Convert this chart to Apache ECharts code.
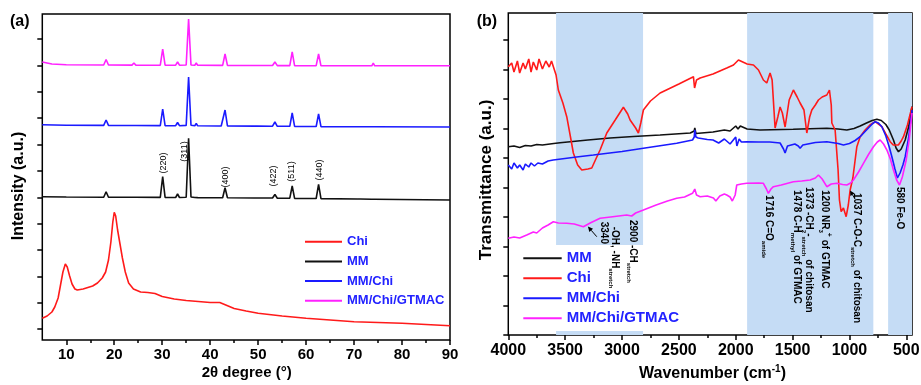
<!DOCTYPE html>
<html><head><meta charset="utf-8">
<script src="https://cdn.jsdelivr.net/npm/echarts@6/dist/echarts.min.js"></script>
<style>html,body{margin:0;padding:0;background:#fff}#c{width:921px;height:385px}</style>
</head><body><div id="c"></div>
<script>
const FONT = '"Liberation Sans", Arial, sans-serif';

// ---------- Panel (a): XRD, [2theta, intensity a.u.] ----------
const xrdChi = [[5,21.7],[6,24],[7,28],[7.6,33],[8.3,42],[8.8,55],[9.3,68],[9.8,76],[10.2,73],[10.7,64],[11.2,56],[11.8,51],[12.3,50],[13.5,51],[14.5,52.5],[15.5,54],[16.5,57],[17.5,62],[18.2,68],[18.8,80],[19.3,98],[19.7,118],[20.0,127.7],[20.3,124],[20.7,110],[21.2,96],[21.7,82],[22.3,68],[23.0,57],[24.0,51],[25.5,48],[27,47.5],[28.5,46.5],[30,43.5],[32.5,41],[35,39.5],[37.5,38.5],[40,37.5],[42,37.5],[43.5,34.5],[45,31.5],[47.5,29],[50,26.7],[55,24],[60,21.7],[65,20],[70,18.3],[75,17.5],[80,16.7],[85,15.5],[90,14.3]];
const xrdMM = [[5,143.3],[10,143],[17.8,142.8],[18.3,148.3],[18.8,142.8],[23.7,142.7],[24.1,144.5],[24.5,142.7],[29.6,142.6],[30.1,163.3],[30.6,142.6],[32.8,142.5],[33.2,146],[33.6,142.5],[35.0,142.8],[35.5,201.7],[36.0,143],[36.8,142.5],[37.1,144.5],[37.4,142.4],[42.6,142.3],[43.1,152.3],[43.6,142.3],[49.2,142],[49.5,143.5],[49.8,142],[53.0,142],[53.5,145.5],[54.0,141.8],[56.6,141.8],[57.1,154],[57.6,141.6],[62.1,141.5],[62.6,155.7],[63.1,141.4],[70.7,141],[71.0,142],[71.3,141],[73.7,140.8],[74.0,142.3],[74.3,140.8],[90,140]];
const xrdMMChi = [[5,215.3],[10,214.8],[17.8,214.6],[18.3,220],[18.8,214.6],[23.7,214.5],[24.1,216],[24.5,214.5],[29.6,214.4],[30.1,231],[30.6,214.4],[32.8,214.3],[33.2,217.5],[33.6,214.3],[35.0,214.6],[35.5,263],[36.0,214.8],[36.8,214.3],[37.1,216.5],[37.4,214.2],[41.7,214],[42.0,215.5],[42.3,214],[42.6,214.1],[43.1,230],[43.6,214.1],[49.2,213.9],[49.5,215],[49.8,213.9],[53.0,213.8],[53.5,218],[54.0,213.7],[56.6,213.7],[57.1,227],[57.6,213.6],[62.1,213.5],[62.6,226],[63.1,213.4],[70.7,213.3],[71.0,214.3],[71.3,213.3],[73.7,213.2],[74.0,214.7],[74.3,213.2],[90,213]];
const xrdGTMAC = [[5,278],[7,276],[10,275.3],[17.8,275],[18.3,280.5],[18.8,275],[23.7,274.9],[24.1,277],[24.5,274.9],[29.6,274.8],[30.1,291],[30.6,274.8],[32.8,274.8],[33.2,278],[33.6,274.8],[35.0,275],[35.5,321],[36.0,275],[36.8,274.8],[37.1,277],[37.4,274.7],[42.6,274.6],[43.1,286],[43.6,274.6],[49.2,274.5],[49.5,276],[49.8,274.5],[53.0,274.5],[53.5,278],[54.0,274.4],[56.6,274.4],[57.1,288],[57.6,274.3],[62.1,274.3],[62.6,286],[63.1,274.2],[70.7,274.2],[71.0,275],[71.3,274.2],[73.7,274.2],[74.0,277],[74.3,274.2],[90,274.3]];
const xrdTicks = [10,20,30,40,50,60,70,80,90];
const xrdMinorTicks = [15,25,35,45,55,65,75,85];
const xrdYTicks = [11,37.35,63.7,90.05,116.4,142.75,169.1,195.45,221.8,248.15,274.5,300.85];
const hklLabels = ['(220)','(311)','(400)','(422)','(511)','(440)'];
const hklAt = [[30.2,177],[34.6,188.5],[43.1,163],[53.2,164],[57.0,168.5],[62.7,170]];
const xrdLegend = ['Chi','MM','MM/Chi','MM/Chi/GTMAC'];

// ---------- Panel (b): FTIR, [wavenumber, transmittance a.u.] ----------
const ftirMM = [[4000,188.3],[3950,189],[3900,187.5],[3850,189.5],[3800,189],[3750,190.5],[3700,190],[3600,191.5],[3545,192.3],[3300,195],[3105,197],[2900,198.5],[2665,200],[2400,202],[2365,204],[2360,207],[2350,201.5],[2200,203],[2100,205],[2050,204],[2000,209],[1980,206],[1960,209],[1900,206],[1787,205],[1495,205.7],[1199,206.7],[1100,206],[1023,205],[960,206.5],[906,209],[850,212],[800,214.5],[759,215.7],[720,214.5],[680,210.5],[650,205],[613,195],[590,187],[569,183.3],[545,186],[510,195],[480,208],[450,228.3]];
const ftirChi = [[4000,268.3],[3970,272],[3950,263],[3920,274],[3900,262],[3870,272],[3850,266],[3820,276],[3800,263],[3780,273],[3750,265],[3730,276],[3700,266],[3670,274],[3640,268],[3620,274],[3605,272],[3580,260],[3560,245],[3520,232],[3486,218.3],[3450,196],[3428,182],[3390,170],[3354,165],[3300,166],[3266,167],[3230,176],[3193,185],[3134,202],[3060,215],[2988,227.7],[2950,221],[2929,215],[2880,207],[2856,202],[2835,212],[2812,225],[2750,234],[2665,242],[2500,251],[2372,258.3],[2362,247],[2345,255],[2313,257],[2200,261],[2079,267],[2020,270],[1976,275],[1900,271],[1844,270],[1800,265],[1757,255],[1727,252],[1698,262],[1680,255],[1654,207],[1630,218],[1610,228],[1590,222],[1566,208],[1530,235],[1493,245],[1460,238],[1434,232],[1400,225],[1375,202],[1350,218],[1331,225],[1300,230],[1273,235],[1240,238],[1199,240],[1176,245],[1160,230],[1155,212],[1126,205],[1100,165],[1088,135],[1073,123.3],[1053,127],[1029,118.3],[1010,130],[994,145],[970,157],[950,175],[935,188.3],[906,198.3],[862,205],[820,210],[774,213.3],[745,211],[715,208.3],[680,201],[642,193.3],[615,190],[598,188.3],[570,190],[545,194],[525,198.3],[490,210],[450,228.3]];
const ftirMMChi = [[4000,170],[3970,166],[3950,172],[3920,167],[3900,170],[3870,165],[3850,171],[3820,168],[3800,172],[3770,169],[3740,172],[3700,171],[3650,174],[3605,175],[3400,178],[3252,180],[3000,183.5],[2812,186.7],[2519,191.7],[2380,195],[2365,198],[2360,205],[2350,198],[2330,197],[2250,195.5],[2200,195],[2150,192],[2100,196],[2050,191],[2000,198],[1990,189],[1970,196],[1950,193],[1903,193.3],[1800,193],[1700,193],[1610,192],[1580,186],[1566,182],[1545,189],[1530,188.3],[1480,191],[1450,189],[1434,186.7],[1410,190],[1300,192.5],[1199,193.3],[1100,191.5],[1053,190],[1000,191.5],[950,194.5],[906,198.3],[850,205],[800,211],[774,213.3],[745,212],[715,208.3],[680,199],[650,188],[627,178.3],[600,166],[578,157],[555,162],[530,170],[510,178.3],[480,197],[450,225]];
const ftirGTMAC = [[4000,96.7],[3950,98],[3900,97],[3838,100],[3780,103],[3750,102],[3700,107],[3650,110],[3604,113.3],[3560,112],[3486,111.7],[3420,111],[3340,108.3],[3280,112],[3193,116.7],[3100,118],[2959,120],[2915,119],[2880,122],[2812,125],[2700,130],[2600,134],[2519,136.7],[2450,138],[2380,141.7],[2365,143],[2360,146],[2345,140],[2313,138.3],[2250,139],[2196,137],[2175,134],[2160,132],[2140,139],[2100,141],[2079,140],[2050,138],[2030,134],[2020,133.3],[2005,140],[1991,150],[1950,151],[1903,151.7],[1800,152],[1757,151.7],[1730,146],[1713,141.7],[1690,146],[1669,148.3],[1600,150],[1493,153.3],[1420,154],[1346,155],[1300,157],[1273,160],[1240,156],[1199,148.3],[1160,151],[1111,151.7],[1060,150.5],[1023,150],[990,152],[965,155],[920,163],[877,171.7],[830,181],[789,188.3],[755,193],[730,195],[700,191],[671,185],[640,176],[613,165],[585,155],[560,150],[535,158],[501,175],[475,195],[450,222]];
const ftirBands = [[3580,2815],[1900,790],[660,450]];
const ftirTicks = [4000,3500,3000,2500,2000,1500,1000,500];
const ftirMinorTicks = [3750,3250,2750,2250,1750,1250,750];
const ftirYTicks = [0,29.5,59,88.5,118,147.5,177,206.5,236,265.5,295];
const ftirLegend = ['MM','Chi','MM/Chi','MM/Chi/GTMAC'];
// annotations: [wavenumber, value at top of text, rich-text parts]
const ftirNotes = [
  [3164,113.3,[['n','3340']]],
  [3061,108.3,[['n','-OH, -NH'],['s','stretch']]],
  [2906,115,[['n','2900 -CH'],['s','stretch']]],
  [1713,140,[['n','1716 C=O'],['s','amide']]],
  [1463,145,[['n','1478 C-H'],['s','methyl'],['n',' of GTMAC']]],
  [1361,148,[['n','1373 -CH'],['s','2'],['n','-'],['s','stretch'],['n',' of chitosan']]],
  [1214,145,[['n','1200 NR'],['s','3'],['p','+'],['n',' of GTMAC']]],
  [935,142,[['n','1037 C-O-C'],['s','stretch'],['n',' of chitosan']]],
  [554,148,[['n','580 Fe-O']]]
];
const ftirArrows = [[[3222,98.3],[3300,108.5]],[[951,136],[995,144.5]]];

const C = {red:'#ff1a1a', black:'#111111', blue:'#1a1aff', mag:'#ff22ff', band:'#c5dcf5', legendText:'#2222ff'};

const chart = echarts.init(document.getElementById('c'), null, {renderer:'canvas'});

function lineSeries(name, data, color, xi, yi) {
  return {type:'line', name, data, xAxisIndex:xi, yAxisIndex:yi, showSymbol:false, symbol:'none',
    lineStyle:{color, width:1.6}, itemStyle:{color}, z:3, animation:false};
}
const tickStyle = {color:'#000', width:1.5};
function xAxisMajor(grid, min, max, inverse, ticks, fs, margin) {
  return {type:'value', gridIndex:grid, min, max, inverse, position:'bottom',
    axisLine:{show:false}, splitLine:{show:false},
    axisTick:{show:true, length:5, lineStyle:tickStyle, customValues:ticks},
    axisLabel:{show:true, customValues:ticks, formatter:v => String(v), color:'#000', fontWeight:'bold', fontSize:fs, fontFamily:FONT, margin}};
}
function xAxisMinor(grid, min, max, inverse, ticks) {
  return {type:'value', gridIndex:grid, min, max, inverse, position:'bottom',
    axisLine:{show:false}, splitLine:{show:false}, axisLabel:{show:false},
    axisTick:{show:true, length:3, lineStyle:tickStyle, customValues:ticks}};
}
function yAxisT(grid, max, ticks) {
  return {type:'value', gridIndex:grid, min:0, max, position:'left',
    axisLine:{show:false}, splitLine:{show:false}, axisLabel:{show:false},
    axisTick:{show:true, length:5, lineStyle:tickStyle, customValues:ticks}};
}

const option = {
  animation:false,
  backgroundColor:'#fff',
  grid:[
    {left:42.3, top:14, width:407.7, height:326, show:true, borderColor:'#000', borderWidth:1.5, backgroundColor:'transparent', outerBoundsMode:'none', containLabel:false},
    {left:508.3, top:13, width:403.7, height:322, show:true, borderColor:'#000', borderWidth:1.5, backgroundColor:'transparent', outerBoundsMode:'none', containLabel:false}
  ],
  xAxis:[
    xAxisMajor(0,5,90,false,xrdTicks,15,7),
    xAxisMinor(0,5,90,false,xrdMinorTicks),
    xAxisMajor(1,450,4000,true,ftirTicks,16,8),
    xAxisMinor(1,450,4000,true,ftirMinorTicks)
  ],
  yAxis:[ yAxisT(0,326,xrdYTicks), yAxisT(1,322,ftirYTicks) ],
  legend:[
    {data:xrdLegend, orient:'vertical', left:305, top:234.7, padding:0, itemWidth:37, itemHeight:2, itemGap:5.7,
     icon:'rect', selectedMode:false,
     textStyle:{color:C.legendText, fontWeight:'bold', fontSize:13, lineHeight:14, fontFamily:FONT}},
    {data:ftirLegend, orient:'vertical', left:509.3, top:245, padding:[5.3,4,4.7,14], backgroundColor:'#fff',
     itemWidth:38.4, itemHeight:2, itemGap:4, icon:'rect', selectedMode:false, z:5,
     textStyle:{color:C.legendText, fontWeight:'bold', fontSize:15, lineHeight:16, fontFamily:FONT}}
  ],
  series:[
    lineSeries('Chi', xrdChi, C.red, 0, 0),
    lineSeries('MM', xrdMM, C.black, 0, 0),
    lineSeries('MM/Chi', xrdMMChi, C.blue, 0, 0),
    lineSeries('MM/Chi/GTMAC', xrdGTMAC, C.mag, 0, 0),
    {type:'line', name:'bands', xAxisIndex:2, yAxisIndex:1, data:[[4000,0]], symbol:'none', showSymbol:false,
     lineStyle:{opacity:0}, z:1, silent:true,
     markArea:{silent:true, itemStyle:{color:C.band}, data:ftirBands.map(b=>[{xAxis:b[0]},{xAxis:b[1]}])}},
    lineSeries('MM', ftirMM, C.black, 2, 1),
    lineSeries('Chi', ftirChi, C.red, 2, 1),
    lineSeries('MM/Chi', ftirMMChi, C.blue, 2, 1),
    lineSeries('MM/Chi/GTMAC', ftirGTMAC, C.mag, 2, 1)
  ]
};
chart.setOption(option);

// ---------- text & annotations ----------
const g = [];
function txt(x, y, text, opts) {
  g.push(Object.assign({type:'text', x, y, z:10, silent:true,
    style:Object.assign({text, fill:'#000', font:'bold 16px '+FONT, fontFamily:FONT, fontWeight:'bold',
      align:'center', textAlign:'center', verticalAlign:'middle', textVerticalAlign:'middle'}, opts.style||{})}, opts.el||{}));
}
txt(10, 21.7, '(a)', {style:{align:'left', textAlign:'left', fontSize:16}});
txt(476.7, 21.7, '(b)', {style:{align:'left', textAlign:'left', fontSize:16}});
txt(18.3, 186, 'Intensity (a.u.)', {el:{rotation:Math.PI/2}, style:{fontSize:16, font:'bold 16px '+FONT}});
txt(246.7, 372.7, '2\u03b8 degree (\u00b0)', {style:{fontSize:15, font:'bold 15px '+FONT}});
txt(486.7, 180, 'Transmittance (a.u.)', {el:{rotation:Math.PI/2}, style:{fontSize:17, font:'bold 17px '+FONT}});
g.push({type:'text', x:712.5, y:373, z:10, silent:true, style:{
  text:'{a|Wavenumber (cm}{s|-1}{a|)}', align:'center', textAlign:'center', verticalAlign:'middle', textVerticalAlign:'middle',
  rich:{a:{fontSize:16, fontWeight:'bold', fontFamily:FONT, fill:'#000', lineHeight:18, verticalAlign:'bottom'},
        s:{fontSize:10, fontWeight:'bold', fontFamily:FONT, fill:'#000', lineHeight:18, verticalAlign:'top'}}}});

// hkl labels (panel a)
hklLabels.forEach((lab, i) => {
  const p = chart.convertToPixel({xAxisIndex:0, yAxisIndex:0}, hklAt[i]);
  g.push({type:'text', x:p[0], y:p[1], rotation:Math.PI/2, z:10, silent:true,
    style:{text:lab, fill:'#000', font:'9px '+FONT, fontSize:9, fontFamily:FONT,
      align:'center', textAlign:'center', verticalAlign:'middle', textVerticalAlign:'middle'}});
});

// FTIR annotations (panel b)
const rich = {
  n:{fontSize:10, fontWeight:'bold', fontFamily:FONT, fill:'#000', lineHeight:15, verticalAlign:'middle'},
  s:{fontSize:6, fontWeight:'bold', fontFamily:FONT, fill:'#000', lineHeight:15, verticalAlign:'bottom'},
  p:{fontSize:7, fontWeight:'bold', fontFamily:FONT, fill:'#000', lineHeight:15, verticalAlign:'top'}
};
ftirNotes.forEach(n => {
  const p = chart.convertToPixel({xAxisIndex:2, yAxisIndex:1}, [n[0], n[1]]);
  const text = n[2].map(t => '{' + t[0] + '|' + t[1] + '}').join('');
  g.push({type:'text', x:p[0], y:p[1], rotation:-Math.PI/2, z:10, silent:true,
    style:{text, rich, align:'left', textAlign:'left', verticalAlign:'middle', textVerticalAlign:'middle'}});
});
ftirArrows.forEach(a => {
  const p0 = chart.convertToPixel({xAxisIndex:2, yAxisIndex:1}, a[0]);
  const p1 = chart.convertToPixel({xAxisIndex:2, yAxisIndex:1}, a[1]);
  const dx = p1[0]-p0[0], dy = p1[1]-p0[1], L = Math.hypot(dx, dy), ux = dx/L, uy = dy/L;
  const hl = 5, hw = 2.5;
  const bx = p1[0]-ux*hl, by = p1[1]-uy*hl;
  g.push({type:'line', z:10, silent:true, shape:{x1:p0[0], y1:p0[1], x2:bx, y2:by}, style:{stroke:'#000', lineWidth:1}});
  g.push({type:'polygon', z:10, silent:true, shape:{points:[[p1[0],p1[1]],[bx-uy*hw, by+ux*hw],[bx+uy*hw, by-ux*hw]]}, style:{fill:'#000'}});
});
chart.setOption({graphic:g});
</script>
</body></html>
